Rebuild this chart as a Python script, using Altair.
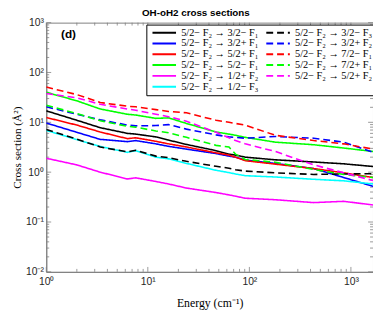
import altair as alt
import pandas as pd

energy = [1, 2, 3.4, 6.3, 7.6, 12, 16, 24, 47, 63, 73, 91, 180, 430, 850, 1650]

# legend order is column-major: solid lines first column, dashed second
labels = [
    "5/2− F₂ → 3/2− F₁", "5/2− F₂ → 3/2+ F₁", "5/2− F₂ → 5/2+ F₁",
    "5/2− F₂ → 5/2− F₁", "5/2− F₂ → 1/2+ F₂", "5/2− F₂ → 1/2− F₃",
    "5/2− F₂ → 3/2− F₃", "5/2− F₂ → 3/2+ F₂", "5/2− F₂ → 7/2− F₁",
    "5/2− F₂ → 7/2+ F₁", "5/2− F₂ → 5/2+ F₂",
]
colors = ["#000000", "#0000ff", "#ff0000", "#00ff00", "#ff00ff", "#00ffff",
          "#000000", "#0000ff", "#ff0000", "#00ff00", "#ff00ff"]
dashes = [[1, 0], [1, 0], [1, 0], [1, 0], [1, 0], [1, 0],
          [7, 4], [7, 4], [7, 4], [7, 4], [7, 4]]

black_solid = [17, 11, 7.8, 6.0, 5.8, 5.1, 4.4, 3.6, 2.7, 2.3, 2.2, 2.0, 1.77, 1.6, 1.47, 1.3]
blue_solid = [9.7, 6.3, 4.55, 4.1, 4.3, 3.7, 3.3, 2.9, 2.36, 2.1, 2.0, 1.75, 1.5, 1.18, 0.78, 0.52]
red_solid = [12.5, 8.8, 6.4, 4.7, 4.9, 4.16, 3.7, 3.2, 2.44, 2.2, 2.0, 1.7, 1.45, 1.18, 0.97, 0.78]
green_solid = [40, 27, 18.5, 14.5, 14, 12, 12.3, 9.5, 6.4, 5.8, 5.5, 5.0, 4.0, 3.55, 3.05, 2.6]
magenta_solid = [1.9, 1.4, 1.0, 0.73, 0.77, 0.65, 0.58, 0.48, 0.39, 0.35, 0.33, 0.30, 0.28, 0.245, 0.26, 0.22]
cyan_solid = [6.9, 4.5, 3.28, 2.5, 2.7, 2.0, 1.85, 1.5, 1.09, 0.98, 0.92, 0.85, 0.80, 0.72, 0.67, 0.58]
black_dash = [7.2, 4.6, 3.2, 2.55, 2.75, 2.1, 1.95, 1.65, 1.31, 1.2, 1.12, 1.05, 0.97, 0.9, 0.92, 0.93]
blue_dash = [20.5, 14.5, 11.2, 8.8, 8.5, 8.6, 9.0, 7.3, 5.6, 5.1, 5.0, 4.8, 5.2, 4.8, 4.0, 2.5]
red_dash = [51, 36, 25, 21, 20.5, 18, 16.5, 15.5, 11, 10, 9.5, 8.8, 5.5, 4.3, 3.7, 2.9]
green_dash = [22, 15, 10.8, 8.3, 8.0, 6.7, 6.2, 5.0, 3.45, 3.2, 2.3, 1.8, 1.58, 1.13, 0.9, 0.78]
magenta_dash = [38, 31, 23, 18.5, 17.5, 14.5, 13, 10.5, 6.3, 4.9, 4.3, 3.7, 2.6, 1.4, 0.97, 0.68]

series_values = [black_solid, blue_solid, red_solid, green_solid, magenta_solid, cyan_solid,
                 black_dash, blue_dash, red_dash, green_dash, magenta_dash]

rows = []
for lab, vals in zip(labels, series_values):
    for e, v in zip(energy, vals):
        rows.append({"E": e, "sigma": v, "series": lab})
df = pd.DataFrame(rows)

W, H = 333, 254
xdom = [1, 1650]
ydom = [0.01, 1000]

x_major = [1, 10, 100, 1000]
y_major = [0.01, 0.1, 1, 10, 100, 1000]
x_minor = [m * d for d in [1, 10, 100, 1000] for m in range(2, 10) if m * d <= 1650]
y_minor = [m * d for d in [0.01, 0.1, 1, 10, 100] for m in range(2, 10)]

sup = "{'0.01':'10⁻²','0.1':'10⁻¹','1':'10⁰','10':'10¹','100':'10²','1000':'10³'}[''+datum.value]"

xs = alt.Scale(type="log", domain=xdom, nice=False)
ys = alt.Scale(type="log", domain=ydom, nice=False)

leg = alt.Legend(title=None, orient="none", legendX=102, legendY=2, columns=2)

lines = alt.Chart(df).mark_line(strokeWidth=1.6, clip=True).encode(
    x=alt.X("E:Q", scale=xs, axis=alt.Axis(values=x_major, labelExpr=sup, title="Energy (cm⁻¹)",
                                          tickSize=0, labelPadding=5, labelFont="Liberation Sans",
                                          labelFontSize=10.5, labelColor="#262626",
                                          titleFont="Liberation Serif", titleFontSize=12,
                                          titleFontWeight="normal", titlePadding=11, grid=False,
                                          domainColor="#808080", labelFlush=False)),
    y=alt.Y("sigma:Q", scale=ys, axis=alt.Axis(values=y_major, labelExpr=sup, title="Cross section (Å²)",
                                              tickSize=0, labelPadding=3, labelFont="Liberation Sans",
                                              labelFontSize=10.5, labelColor="#262626",
                                              titleFont="Liberation Serif", titleFontSize=11.5,
                                              titleFontWeight="normal", titlePadding=2, grid=False,
                                              domainColor="#808080", labelFlush=False)),
    color=alt.Color("series:N", scale=alt.Scale(domain=labels, range=colors), legend=leg),
    strokeDash=alt.StrokeDash("series:N", scale=alt.Scale(domain=labels, range=dashes), legend=leg),
)

xt = pd.DataFrame({"v": x_major + x_minor, "len": [5] * len(x_major) + [3] * len(x_minor)})
yt = pd.DataFrame({"v": y_major + y_minor, "len": [5] * len(y_major) + [3] * len(y_minor)})

def xticks(len_, top):
    d = xt[xt["len"] == len_]
    if top:
        enc = dict(y=alt.value(0), y2=alt.value(len_))
    else:
        enc = dict(y=alt.value(H), y2=alt.value(H - len_))
    return alt.Chart(d).mark_rule(color="#808080", strokeWidth=0.8).encode(
        x=alt.X("v:Q", scale=xs), **enc)

def yticks(len_, right):
    d = yt[yt["len"] == len_]
    if right:
        enc = dict(x=alt.value(W), x2=alt.value(W - len_))
    else:
        enc = dict(x=alt.value(0), x2=alt.value(len_))
    return alt.Chart(d).mark_rule(color="#808080", strokeWidth=0.8).encode(
        y=alt.Y("v:Q", scale=ys), **enc)

ticks = [xticks(5, False), xticks(3, False), xticks(5, True), xticks(3, True),
         yticks(5, False), yticks(3, False), yticks(5, True), yticks(3, True)]

panel = alt.Chart(pd.DataFrame({"t": ["(d)"]})).mark_text(
    fontWeight="bold", fontSize=12, font="Liberation Sans", align="left", baseline="middle"
).encode(x=alt.value(15), y=alt.value(12), text="t:N")

chart = alt.layer(*ticks, lines, panel).properties(
    width=W, height=H,
    title=alt.TitleParams("OH-oH2 cross sections", font="Liberation Sans", fontSize=10,
                          fontWeight="bold", offset=0, anchor="middle", color="#000", dx=-14),
    autosize=alt.AutoSizeParams(type="none"),
    padding={"left": 39, "top": 12, "right": 0, "bottom": 38},
).configure_view(stroke="#808080", strokeWidth=1).configure_legend(
    symbolType="M-4,0H4", symbolSize=36, symbolStrokeWidth=2, labelFont="Liberation Serif",
    labelFontSize=10.5, labelColor="#000", padding=3, strokeColor="#000", fillColor="#ffffff",
    rowPadding=0, columnPadding=3, labelOffset=12, symbolOffset=10,
).resolve_scale(x="shared", y="shared")

chart.save("out.html", embed_options={"renderer": "svg", "actions": False})
